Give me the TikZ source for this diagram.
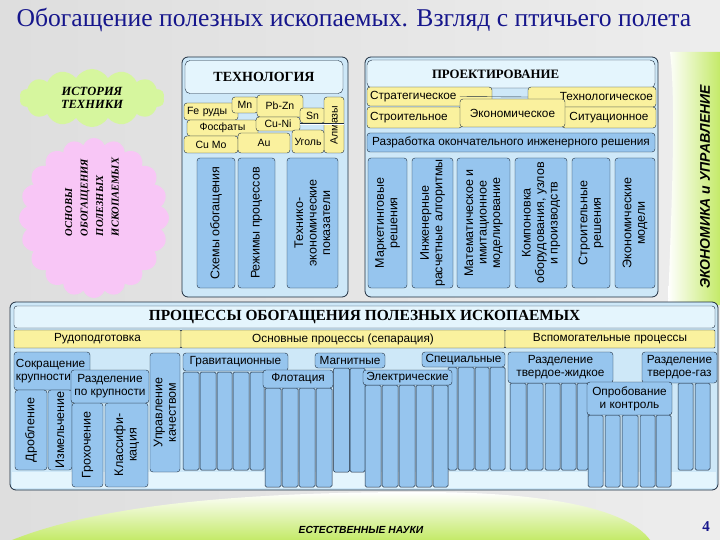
\documentclass[tikz,border=0pt]{standalone}
\usepackage{fontspec}
\setmainfont{Liberation Serif}
\setsansfont{Liberation Sans}
\usetikzlibrary{shapes.symbols}
\definecolor{titleblue}{RGB}{22,22,140}
\definecolor{panelblue}{RGB}{206,232,248}
\definecolor{headblue}{RGB}{228,245,253}
\definecolor{tileyellow}{RGB}{250,241,158}
\definecolor{colblue}{RGB}{150,197,238}
\definecolor{edge}{RGB}{30,45,62}
\definecolor{leafgreen}{RGB}{196,234,104}
\definecolor{cloudgreen}{RGB}{214,246,158}
\definecolor{cloudpink}{RGB}{248,198,246}
\begin{document}
\begin{tikzpicture}[x=1pt,y=-1pt,
	panel/.style={draw=edge,fill=panelblue,rounded corners=6pt,line width=0.8pt},
	head/.style={draw=edge,fill=headblue,rounded corners=5pt,font=\bfseries\fontsize{14}{16}\selectfont},
	tile/.style={draw=edge,fill=tileyellow,rounded corners=3pt,inner sep=1pt,font=\sffamily\fontsize{11.8}{13}\selectfont},
	techtile/.style={tile,font=\sffamily\fontsize{10.5}{12}\selectfont},
	col/.style={draw=edge,fill=colblue,rounded corners=3pt,inner sep=1pt,align=center,font=\sffamily\fontsize{11.8}{13}\selectfont},
	vcol/.style={col,rotate=90,font=\sffamily\fontsize{12.5}{13.5}\selectfont},
	strip/.style={draw=edge,fill=colblue,rounded corners=1.5pt,inner sep=0pt,line width=0.5pt},
	]
		\useasboundingbox (0,0) rectangle (720,540);
		\shade[left color=black!13,middle color=white,right color=black!7] (0,0) rectangle (720,540);
		\begin{scope}[y=1pt]
			\shade[top color=white,bottom color=leafgreen] (12,-540) .. controls (100,-505) and (240,-492) .. (420,-492) .. controls (560,-492) and (630,-512) .. (650,-540) -- cycle;
		\end{scope}
		\shade[left color=white,right color=leafgreen] (670,52) .. controls (690,52) and (700,52) .. (720,52) -- (720,305) -- (668,305) .. controls (672,200) and (676,100) .. (670,52);
		\node[font=\fontsize{25.6}{30}\selectfont,text=titleblue] (title) at (354,20) {Обогащение полезных ископаемых. Взгляд с птичьего полета};
		\node[rotate=90,font=\sffamily\bfseries\itshape\fontsize{14}{16}\selectfont] (econ-mgmt) at (705,187) {ЭКОНОМИКА и УПРАВЛЕНИЕ};
		\node[font=\sffamily\bfseries\itshape\fontsize{10.3}{12}\selectfont] (science) at (361,530) {ЕСТЕСТВЕННЫЕ НАУКИ};
		\node[font=\bfseries\fontsize{15}{17}\selectfont,text=titleblue] (page) at (706,527) {4};
		\node[cloud,cloud puffs=14,cloud puff arc=120,aspect=2.5,fill=cloudgreen,minimum width=145pt,minimum height=58pt,align=center,font=\bfseries\itshape\fontsize{12.5}{13.5}\selectfont] (history) at (92,98) {ИСТОРИЯ\\ТЕХНИКИ};
		\node[cloud,cloud puffs=20,cloud puff arc=140,aspect=0.9,fill=cloudpink,minimum width=150pt,minimum height=160pt] (basics) at (94,218) {};
		\node[rotate=90,align=left,font=\bfseries\itshape\fontsize{10.5}{15.5}\selectfont] (basics-text) at (92,197) {ОСНОВЫ\\ОБОГАЩЕНИЯ\\ПОЛЕЗНЫХ\\ИСКОПАЕМЫХ};
		\draw[panel] (182,57) rectangle (348,297);
		\node[head,minimum width=158pt,minimum height=33pt] (tech) at (264,77) {ТЕХНОЛОГИЯ};
		\node[techtile,minimum width=54pt,minimum height=17pt,text width=48pt,align=left] (fe) at (211,111.5) {Fe руды};
		\node[techtile,minimum width=26pt,minimum height=16pt] (mn) at (245,105) {Mn};
		\node[techtile,minimum width=46pt,minimum height=22pt] (pbzn) at (280,106) {Pb-Zn};
		\node[techtile,minimum width=25pt,minimum height=15pt] (sn) at (312.5,115.5) {Sn};
		\node[techtile,rotate=90,minimum width=56pt,minimum height=20pt] (almazy) at (334,125) {Алмазы};
		\node[techtile,minimum width=71pt,minimum height=16pt] (fosfaty) at (222.5,128) {Фосфаты};
		\node[techtile,minimum width=44pt,minimum height=14pt] (cuni) at (278,124) {Cu-Ni};
		\node[techtile,minimum width=32pt,minimum height=23pt] (ugol) at (308,141.5) {Уголь};
		\node[techtile,minimum width=54pt,minimum height=17pt] (cumo) at (211,144.5) {Cu Mo};
		\node[techtile,minimum width=52pt,minimum height=20pt] (au) at (264,143) {Au};
		\draw[edge,double] (cuni.east) -- (cuni.east -| almazy.south);
		\node[vcol,minimum width=130pt,minimum height=38pt] (schemes) at (216,223) {Схемы обогащения};
		\node[vcol,minimum width=130pt,minimum height=37pt] (modes) at (256.5,223) {Режимы процессов};
		\node[vcol,minimum width=130pt,minimum height=51pt] (teco) at (312.5,223) {Технико-\\экономические\\показатели};
		\draw[panel] (365,57) rectangle (658,297);
		\node[head,minimum width=288pt,minimum height=28pt,text width=276pt,align=left,font=\bfseries\fontsize{12.8}{15}\selectfont] (design) at (511,74) {\hspace{59pt}ПРОЕКТИРОВАНИЕ};
		\node[tile,minimum width=125pt,minimum height=19pt,text width=119pt,align=left] (strat) at (429.5,96.5) {Стратегическое};
		\node[tile,minimum width=95pt,minimum height=21pt,text width=89pt,align=left] (build) at (414.5,117.5) {Строительное};
		\node[tile,minimum width=128pt,minimum height=20pt,text width=122pt,align=right] (techn) at (592,97) {Технологическое};
		\node[tile,minimum width=94pt,minimum height=21pt] (situ) at (609,117.5) {Ситуационное};
		\node[tile,minimum width=105pt,minimum height=28pt] (econ) at (512.5,113) {Экономическое};
		\draw[edge] (econ.north west |- strat.east) -- (techn.west);
		\node[col,minimum width=288pt,minimum height=19pt] (final) at (511,142.5) {Разработка окончательного инженерного решения};
		\node[vcol,minimum width=130pt,minimum height=39pt] (market) at (387.5,223) {Маркетинговые\\решения};
		\node[vcol,minimum width=130pt,minimum height=41pt] (algo) at (432.5,223) {Инженерные\\расчетные алгоритмы};
		\node[vcol,minimum width=130pt,minimum height=53pt] (model) at (483.5,223) {Математическое и\\имитационное\\моделирование};
		\node[vcol,minimum width=130pt,minimum height=52pt] (layout) at (541,223) {Компоновка\\оборудования, узлов\\и производств};
		\node[vcol,minimum width=130pt,minimum height=38pt] (constr) at (591,223) {Строительные\\решения};
		\node[vcol,minimum width=130pt,minimum height=40pt] (ecomod) at (635,223) {Экономические\\модели};
		\draw[panel] (10,302) rectangle (718,490);
		\fill[headblue] (12,472) rectangle (716,488);
		\node[head,rounded corners=3pt,minimum width=701pt,minimum height=22pt,font=\bfseries\fontsize{15.4}{17}\selectfont] (proc) at (364.5,317) {ПРОЦЕССЫ ОБОГАЩЕНИЯ ПОЛЕЗНЫХ ИСКОПАЕМЫХ};
		\node[tile,rounded corners=1pt,minimum width=167pt,minimum height=18pt] (prep) at (97.5,339) {Рудоподготовка};
		\node[tile,rounded corners=1pt,minimum width=324pt,minimum height=18pt] (main) at (343,339) {Основные процессы (сепарация)};
		\node[tile,rounded corners=1pt,minimum width=210pt,minimum height=18pt] (aux) at (610,339) {Вспомогательные процессы};
		\node[col,minimum width=76pt,minimum height=38pt,text width=72pt,align=left] (size) at (52,371) {Сокращение\\крупности};
		\node[vcol,minimum width=80pt,minimum height=32pt] (crush) at (31,430) {Дробление};
		\node[vcol,minimum width=80pt,minimum height=24pt] (grind) at (60,430) {Измельчение};
		\node[vcol,minimum width=84pt,minimum height=31pt] (screen) at (87.5,445) {Грохочение};
		\node[vcol,minimum width=84pt,minimum height=43pt] (classif) at (126.5,445) {Классифи-\\кация};
		\node[col,minimum width=78pt,minimum height=33pt] (sizing) at (110,386.5) {Разделение\\по крупности};
		\node[vcol,minimum width=119pt,minimum height=30pt] (quality) at (165,412.5) {Управление\\качеством};
		\node[strip,minimum width=16pt,minimum height=98pt] (g1) at (191,421) {};
		\node[strip,minimum width=16pt,minimum height=98pt] (g2) at (208,421) {};
		\node[strip,minimum width=15pt,minimum height=98pt] (g3) at (224.5,421) {};
		\node[strip,minimum width=16pt,minimum height=98pt] (g4) at (241,421) {};
		\node[strip,minimum width=14pt,minimum height=98pt] (g5) at (257,421) {};
		\node[strip,minimum width=16pt,minimum height=99pt] (f1) at (273,437.5) {};
		\node[strip,minimum width=16pt,minimum height=99pt] (f2) at (290,437.5) {};
		\node[strip,minimum width=16pt,minimum height=99pt] (f3) at (307,437.5) {};
		\node[strip,minimum width=16pt,minimum height=99pt] (f4) at (324,437.5) {};
		\node[strip,minimum width=16pt,minimum height=104pt] (m1) at (341.5,420) {};
		\node[strip,minimum width=15pt,minimum height=104pt] (m2) at (357.5,420) {};
		\node[strip,minimum width=16pt,minimum height=102pt] (e1) at (373,436) {};
		\node[strip,minimum width=16pt,minimum height=102pt] (e2) at (390,436) {};
		\node[strip,minimum width=16pt,minimum height=102pt] (e3) at (407,436) {};
		\node[strip,minimum width=16pt,minimum height=102pt] (e4) at (424,436) {};
		\node[strip,minimum width=15pt,minimum height=102pt] (e5) at (440.5,436) {};
		\node[strip,minimum width=9pt,minimum height=103pt] (s1) at (452.5,418.5) {};
		\node[strip,minimum width=16pt,minimum height=103pt] (s2) at (466,418.5) {};
		\node[strip,minimum width=14pt,minimum height=103pt] (s3) at (482,418.5) {};
		\node[strip,minimum width=15pt,minimum height=103pt] (s4) at (497.5,418.5) {};
		\node[strip,minimum width=16pt,minimum height=87pt] (l1) at (518,426.5) {};
		\node[strip,minimum width=16pt,minimum height=87pt] (l2) at (535,426.5) {};
		\node[strip,minimum width=15pt,minimum height=87pt] (l3) at (552.5,426.5) {};
		\node[strip,minimum width=15pt,minimum height=87pt] (l4) at (568.5,426.5) {};
		\node[strip,minimum width=11pt,minimum height=87pt] (l5) at (582.5,426.5) {};
		\node[strip,minimum width=15pt,minimum height=72pt] (c1) at (595.5,451) {};
		\node[strip,minimum width=15pt,minimum height=72pt] (c2) at (612.5,451) {};
		\node[strip,minimum width=16pt,minimum height=72pt] (c3) at (630,451) {};
		\node[strip,minimum width=15pt,minimum height=72pt] (c4) at (647.5,451) {};
		\node[strip,minimum width=15pt,minimum height=72pt] (c5) at (663.5,451) {};
		\node[strip,minimum width=15pt,minimum height=87pt] (a1) at (685.5,426.5) {};
		\node[strip,minimum width=15pt,minimum height=87pt] (a2) at (702.5,426.5) {};
		\node[col,minimum width=105pt,minimum height=18pt] (grav) at (235.5,362) {Гравитационные};
		\node[col,minimum width=70pt,minimum height=18pt] (flot) at (298,379) {Флотация};
		\node[col,minimum width=70pt,minimum height=15pt] (magn) at (350,360.5) {Магнитные};
		\node[col,minimum width=89pt,minimum height=15pt] (elec) at (407.5,377.5) {Электрические};
		\node[col,minimum width=83pt,minimum height=15pt] (spec) at (463.5,359.5) {Специальные};
		\node[col,minimum width=105pt,minimum height=31pt] (solliq) at (560.5,367.5) {Разделение\\твердое-жидкое};
		\node[col,minimum width=75pt,minimum height=31pt] (solgas) at (679.5,367.5) {Разделение\\твердое-газ};
		\node[col,minimum width=85pt,minimum height=33pt] (sampling) at (629.5,398.5) {Опробование\\и контроль};
	\end{tikzpicture}
\end{document}
